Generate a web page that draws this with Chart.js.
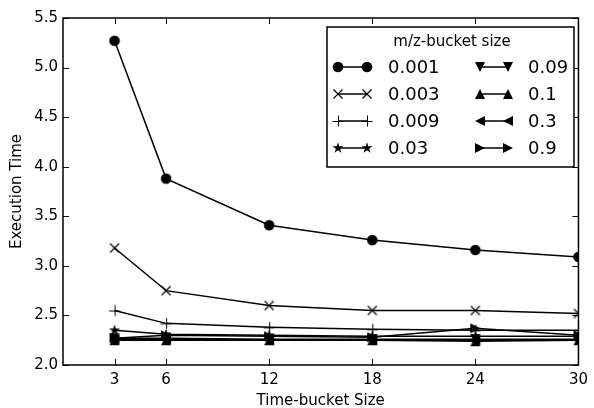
<!DOCTYPE html>
<html>
<head>
<meta charset="utf-8">
<script src="https://cdn.jsdelivr.net/npm/chart.js@4.4.1/dist/chart.umd.min.js"></script>
<style>
    html, body { margin: 0; padding: 0; background: #fff; }
    #wrap { width: 594px; height: 408px; position: relative; }
</style>
</head>
<body>
<div id="wrap"><canvas id="chart"></canvas></div>
<script>
// ------------------------------------------------------------------ data
const timeBuckets = [3, 6, 12, 18, 24, 30];
const yTicks = [2.0, 2.5, 3.0, 3.5, 4.0, 4.5, 5.0, 5.5];

const mzLabels = ['0.001', '0.003', '0.009', '0.03', '0.09', '0.1', '0.3', '0.9'];
const mzMarkers = ['circle', 'x', 'plus', 'star', 'triDown', 'triUp', 'triLeft', 'triRight'];

const mz0001 = [5.27, 3.88, 3.41, 3.26, 3.16, 3.09];
const mz0003 = [3.18, 2.75, 2.60, 2.55, 2.55, 2.52];
const mz0009 = [2.55, 2.42, 2.38, 2.36, 2.35, 2.35];
const mz003  = [2.35, 2.31, 2.30, 2.29, 2.29, 2.29];
const mz009  = [2.27, 2.27, 2.26, 2.26, 2.26, 2.26];
const mz01   = [2.25, 2.25, 2.25, 2.25, 2.24, 2.25];
const mz03   = [2.26, 2.26, 2.25, 2.25, 2.25, 2.25];
const mz09   = [2.27, 2.30, 2.29, 2.28, 2.37, 2.30];

const series = [mz0001, mz0003, mz0009, mz003, mz009, mz01, mz03, mz09];

const FONT = "'DejaVu Sans', sans-serif";

// ------------------------------------------------------------- markers
function makeMarker(kind) {
    const s = 16;
    const c = document.createElement('canvas');
    c.width = s; c.height = s;
    const g = c.getContext('2d');
    g.translate(s / 2, s / 2);
    g.fillStyle = '#000';
    g.strokeStyle = '#000';
    g.lineWidth = 1.2;
    const r = 5;
    g.beginPath();
    switch (kind) {
        case 'circle':
            g.arc(0, 0, r + 0.3, 0, Math.PI * 2);
            g.fill();
            break;
        case 'x':
            g.moveTo(-4.5, -4.5); g.lineTo(4.5, 4.5);
            g.moveTo(4.5, -4.5); g.lineTo(-4.5, 4.5);
            g.stroke();
            break;
        case 'plus':
            g.lineWidth = 1;
            g.moveTo(-5.5, 0.5); g.lineTo(5.5, 0.5);
            g.moveTo(0.5, -5.5); g.lineTo(0.5, 5.5);
            g.stroke();
            break;
        case 'star': {
            const ro = 5.8, ri = ro * 0.382;
            for (let i = 0; i < 10; i++) {
                const rad = i % 2 === 0 ? ro : ri;
                const a = -Math.PI / 2 + i * Math.PI / 5;
                const px = rad * Math.cos(a), py = rad * Math.sin(a);
                if (i === 0) g.moveTo(px, py); else g.lineTo(px, py);
            }
            g.closePath();
            g.fill();
            break;
        }
        case 'triUp':
            g.moveTo(0, -r); g.lineTo(r, r); g.lineTo(-r, r); g.closePath(); g.fill();
            break;
        case 'triDown':
            g.moveTo(0, r); g.lineTo(r, -r); g.lineTo(-r, -r); g.closePath(); g.fill();
            break;
        case 'triLeft':
            g.moveTo(-r, 0); g.lineTo(r, -r); g.lineTo(r, r); g.closePath(); g.fill();
            break;
        case 'triRight':
            g.moveTo(r, 0); g.lineTo(-r, -r); g.lineTo(-r, r); g.closePath(); g.fill();
            break;
    }
    return c;
}

const markerImgs = mzMarkers.map(makeMarker);

// ------------------------------------------------------------- plugins
// matplotlib-style box with inward ticks on all four sides
const framePlugin = {
    id: 'frame',
    afterDatasetsDraw(chart) {
        const { ctx, chartArea: a, scales } = chart;
        const tl = 6;
        ctx.save();
        ctx.strokeStyle = '#000';
        ctx.lineWidth = 1;
        ctx.beginPath();
        timeBuckets.forEach(v => {
            const x = Math.round(scales.x.getPixelForValue(v)) + 0.5;
            ctx.moveTo(x, a.bottom); ctx.lineTo(x, a.bottom - tl);
            ctx.moveTo(x, a.top); ctx.lineTo(x, a.top + tl);
        });
        yTicks.forEach(v => {
            const y = Math.round(scales.y.getPixelForValue(v)) + 0.5;
            ctx.moveTo(a.left, y); ctx.lineTo(a.left + tl, y);
            ctx.moveTo(a.right, y); ctx.lineTo(a.right - tl, y);
        });
        ctx.stroke();
        ctx.lineWidth = 1.5;
        ctx.strokeRect(a.left, a.top, a.right - a.left, a.bottom - a.top);
        ctx.restore();
    }
};

// two-column legend with a marker at each end of the sample line
const legendPlugin = {
    id: 'mzLegend',
    afterDraw(chart) {
        const { ctx } = chart;
        const box = { x: 327, y: 27, w: 247, h: 140 };
        ctx.save();
        ctx.fillStyle = '#fff';
        ctx.fillRect(box.x, box.y, box.w, box.h);
        ctx.strokeStyle = '#000';
        ctx.lineWidth = 1.5;
        ctx.strokeRect(box.x, box.y, box.w, box.h);

        ctx.fillStyle = '#000';
        ctx.textBaseline = 'middle';
        ctx.textAlign = 'center';
        ctx.font = `15px ${FONT}`;
        ctx.fillText('m/z-bucket size', 452, 42);

        ctx.textAlign = 'left';
        ctx.font = `18px ${FONT}`;
        const cols = [{ x1: 338, x2: 367, tx: 388 }, { x1: 480, x2: 508, tx: 528 }];
        const rows = [67, 94, 121, 148];
        mzLabels.forEach((lab, i) => {
            const col = cols[Math.floor(i / 4)];
            const y = rows[i % 4];
            ctx.lineWidth = 1.5;
            ctx.beginPath();
            ctx.moveTo(col.x1, y); ctx.lineTo(col.x2, y);
            ctx.stroke();
            const img = markerImgs[i];
            ctx.drawImage(img, col.x1 - img.width / 2, y - img.height / 2);
            ctx.drawImage(img, col.x2 - img.width / 2, y - img.height / 2);
            ctx.fillText(lab, col.tx, y + 1);
        });
        ctx.restore();
    }
};

// ------------------------------------------------------------- chart
const datasets = series.map((vals, i) => ({
    label: mzLabels[i],
    data: vals.map((v, j) => ({ x: timeBuckets[j], y: v })),
    borderColor: '#000',
    backgroundColor: '#000',
    borderWidth: 1.5,
    pointStyle: markerImgs[i],
    pointRadius: 5,
    tension: 0,
    fill: false
}));

new Chart(document.getElementById('chart'), {
    type: 'line',
    data: { datasets },
    options: {
        responsive: true,
        maintainAspectRatio: false,
        animation: false,
        devicePixelRatio: 1,
        layout: { padding: { left: 0, top: 18, right: 12, bottom: 0 } },
        plugins: {
            legend: { display: false },
            tooltip: { enabled: false }
        },
        scales: {
            x: {
                type: 'linear',
                min: 0,
                max: 30,
                afterBuildTicks: s => { s.ticks = timeBuckets.map(v => ({ value: v })); },
                afterFit: s => { s.height = 43; },
                grid: { display: false, drawTicks: false },
                border: { display: false },
                ticks: { color: '#000', font: { family: FONT, size: 15 }, padding: 6, maxRotation: 0, autoSkip: false },
                title: { display: true, text: 'Time-bucket Size', color: '#000', font: { family: FONT, size: 15 }, padding: { top: 0, bottom: -2 } }
            },
            y: {
                min: 2,
                max: 5.5,
                afterBuildTicks: s => { s.ticks = yTicks.map(v => ({ value: v })); },
                afterFit: s => { s.width = 63; },
                grid: { display: false, drawTicks: false },
                border: { display: false },
                ticks: { color: '#000', font: { family: FONT, size: 15 }, padding: 5, callback: v => v.toFixed(1) },
                title: { display: true, text: 'Execution Time', color: '#000', font: { family: FONT, size: 15 }, padding: { top: 8, bottom: 0 } }
            }
        }
    },
    plugins: [framePlugin, legendPlugin]
});
</script>
</body>
</html>
